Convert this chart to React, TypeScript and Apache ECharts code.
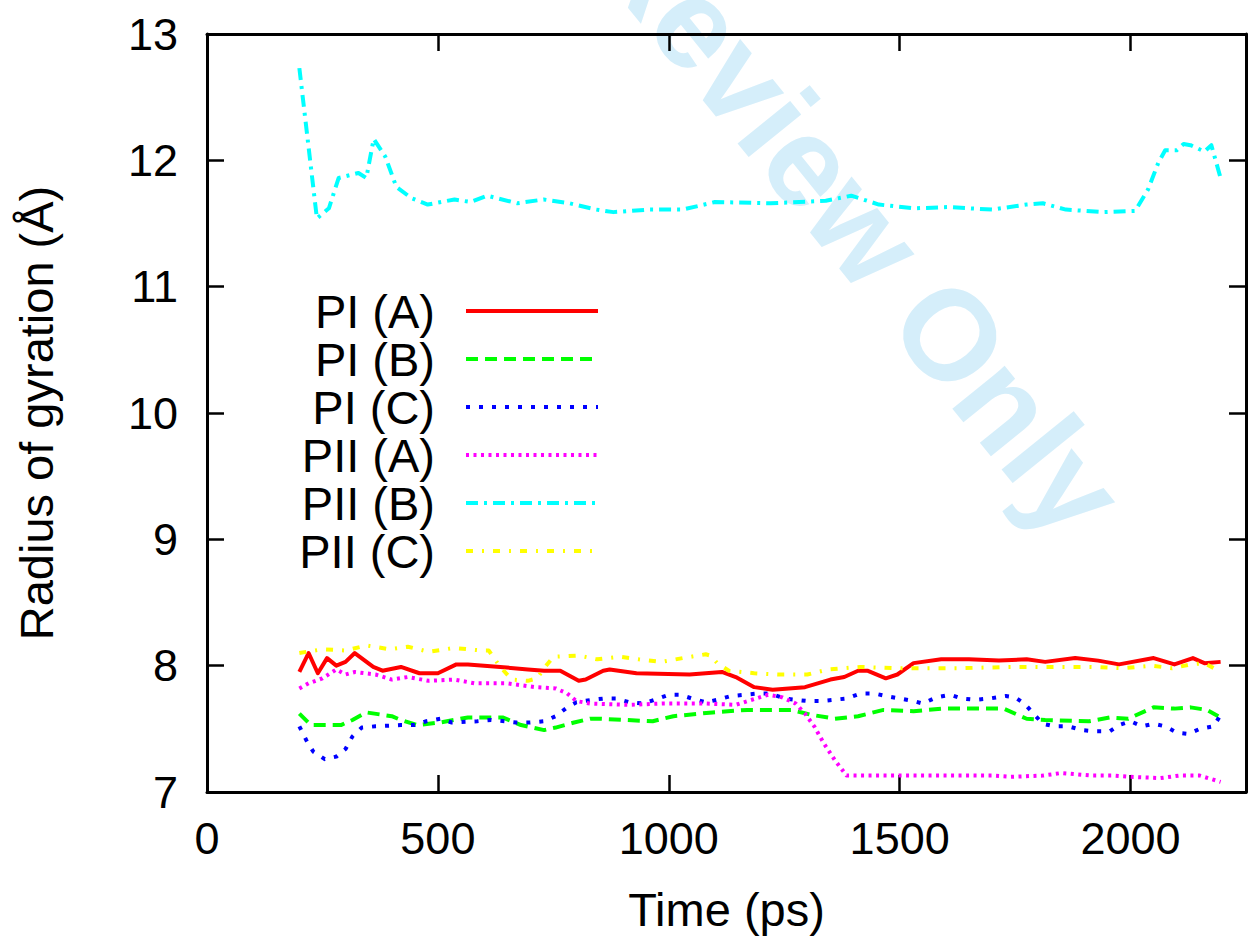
import React, { useEffect, useRef } from "react";
import * as echarts from "echarts";

// ---- data: [time (ps), radius of gyration (Å)] ----
const piA: [number, number][] = [
  [200, 7.95], [220, 8.10], [240, 7.94], [260, 8.06], [280, 8.0], [300, 8.03], [320, 8.10], [360, 7.99],
  [380, 7.96], [420, 7.99], [460, 7.94], [500, 7.94], [540, 8.01], [565, 8.01], [635, 7.99], [695, 7.97],
  [730, 7.96], [765, 7.96], [805, 7.88], [820, 7.89], [858, 7.96], [872, 7.97], [930, 7.94], [1045, 7.93],
  [1115, 7.95], [1145, 7.91], [1185, 7.83], [1225, 7.81], [1295, 7.83], [1350, 7.89], [1380, 7.91],
  [1410, 7.96], [1430, 7.96], [1470, 7.90], [1495, 7.93], [1530, 8.02], [1590, 8.05], [1650, 8.05],
  [1715, 8.04], [1775, 8.05], [1815, 8.03], [1880, 8.06], [1930, 8.04], [1975, 8.01], [2050, 8.06],
  [2095, 8.01], [2135, 8.06], [2160, 8.02], [2195, 8.03],
];
const piB: [number, number][] = [
  [200, 7.62], [225, 7.53], [250, 7.53], [290, 7.53], [315, 7.57], [345, 7.63], [400, 7.60], [420, 7.57],
  [455, 7.53], [505, 7.55], [565, 7.59], [640, 7.59], [680, 7.53], [730, 7.49], [755, 7.51], [795, 7.55],
  [830, 7.58], [850, 7.58], [965, 7.56], [1010, 7.60], [1095, 7.63], [1170, 7.65], [1265, 7.65],
  [1310, 7.61], [1360, 7.58], [1410, 7.60], [1465, 7.65], [1530, 7.64], [1595, 7.66], [1700, 7.66],
  [1725, 7.66], [1775, 7.58], [1815, 7.57], [1910, 7.56], [1955, 7.59], [1995, 7.58], [2050, 7.67],
  [2095, 7.66], [2130, 7.67], [2165, 7.65], [2190, 7.60],
];
const piC: [number, number][] = [
  [200, 7.52], [215, 7.41], [230, 7.32], [255, 7.26], [280, 7.28], [300, 7.34], [315, 7.44], [335, 7.51],
  [365, 7.52], [420, 7.53], [450, 7.53], [475, 7.56], [505, 7.58], [530, 7.55], [585, 7.56], [615, 7.57],
  [645, 7.56], [670, 7.55], [700, 7.55], [730, 7.56], [755, 7.60], [780, 7.67], [800, 7.71], [835, 7.73],
  [860, 7.74], [885, 7.74], [915, 7.71], [945, 7.70], [970, 7.73], [1000, 7.77], [1025, 7.77], [1050, 7.74],
  [1080, 7.71], [1105, 7.73], [1135, 7.76], [1165, 7.77], [1195, 7.78], [1220, 7.78], [1250, 7.74],
  [1300, 7.72], [1330, 7.72], [1385, 7.74], [1415, 7.78], [1445, 7.78], [1470, 7.76], [1500, 7.74],
  [1530, 7.72], [1550, 7.70], [1580, 7.75], [1610, 7.77], [1635, 7.74], [1665, 7.73], [1695, 7.74],
  [1730, 7.76], [1750, 7.75], [1770, 7.70], [1790, 7.62], [1810, 7.54], [1835, 7.52], [1865, 7.52],
  [1895, 7.49], [1925, 7.48], [1955, 7.48], [1975, 7.53], [2000, 7.56], [2025, 7.52], [2050, 7.54],
  [2075, 7.52], [2100, 7.47], [2125, 7.46], [2150, 7.50], [2180, 7.52], [2195, 7.61],
];
const piiA: [number, number][] = [
  [200, 7.82], [220, 7.86], [250, 7.90], [280, 7.97], [300, 7.93], [320, 7.95], [365, 7.93], [400, 7.89],
  [435, 7.91], [480, 7.88], [535, 7.89], [580, 7.86], [650, 7.86], [710, 7.83], [755, 7.82], [780, 7.78],
  [800, 7.72], [830, 7.70], [915, 7.69], [985, 7.70], [1080, 7.70], [1145, 7.69], [1180, 7.73],
  [1215, 7.77], [1245, 7.75], [1275, 7.70], [1295, 7.62], [1315, 7.52], [1335, 7.39], [1360, 7.25],
  [1385, 7.13], [1415, 7.13], [1560, 7.13], [1700, 7.13], [1740, 7.12], [1810, 7.13], [1850, 7.15],
  [1915, 7.13], [1965, 7.13], [2000, 7.12], [2065, 7.11], [2105, 7.13], [2150, 7.13], [2195, 7.08],
];
const piiB: [number, number][] = [
  [200, 12.73], [238, 11.54], [264, 11.62], [285, 11.86], [328, 11.90], [345, 11.86], [361, 12.17],
  [386, 12.03], [410, 11.79], [443, 11.70], [478, 11.65], [536, 11.69], [571, 11.67], [607, 11.72],
  [672, 11.66], [729, 11.69], [785, 11.66], [843, 11.61], [880, 11.59], [955, 11.61], [1030, 11.61],
  [1100, 11.67], [1220, 11.66], [1340, 11.68], [1395, 11.72], [1455, 11.65], [1530, 11.62], [1605, 11.63],
  [1700, 11.61], [1775, 11.65], [1810, 11.66], [1860, 11.61], [1940, 11.59], [2010, 11.60], [2038, 11.77],
  [2060, 11.98], [2075, 12.08], [2100, 12.08], [2115, 12.13], [2130, 12.12], [2160, 12.07], [2175, 12.12],
  [2195, 11.86],
];
const piiC: [number, number][] = [
  [200, 8.10], [250, 8.13], [300, 8.12], [345, 8.16], [395, 8.13], [435, 8.15], [480, 8.11], [535, 8.14],
  [595, 8.12], [610, 8.12], [635, 7.99], [660, 7.89], [695, 7.88], [715, 7.90], [730, 7.98], [750, 8.07],
  [805, 8.08], [845, 8.05], [895, 8.07], [935, 8.05], [985, 8.03], [1030, 8.06], [1080, 8.09], [1090, 8.08],
  [1105, 8.02], [1130, 7.96], [1185, 7.94], [1235, 7.93], [1300, 7.93], [1345, 7.97], [1415, 7.99],
  [1490, 7.98], [1560, 7.98], [1630, 7.98], [1740, 7.99], [1775, 7.99], [1845, 7.99], [1915, 7.99],
  [1985, 7.98], [2045, 8.00], [2090, 7.98], [2130, 8.01], [2160, 8.02], [2180, 7.98], [2190, 7.94],
];

const seriesNames = ["PI (A)", "PI (B)", "PI (C)", "PII (A)", "PII (B)", "PII (C)"];
const seriesData = [piA, piB, piC, piiA, piiB, piiC];
const seriesColors = ["#ff0000", "#00ff00", "#0000ff", "#ff00ff", "#00ffff", "#ffff00"];
const seriesDash: (string | number[])[] = ["solid", [12, 7], [4, 9], [3, 4.5], [12, 6, 3, 6], [7, 9, 2, 9]];

const xTicks = { min: 0, max: 2250, interval: 500 };
const yTicks = { min: 7, max: 13, interval: 1 };

const FONT = '"Liberation Sans", Arial, Helvetica, sans-serif';
const TICK_FS = 45;
const NAME_FS = 47;

export default function App() {
  const ref = useRef<HTMLDivElement>(null);
  useEffect(() => {
    if (!ref.current) return;
    const chart = echarts.init(ref.current, undefined, { renderer: "svg" });
    const axisLine = { show: true, onZero: false, lineStyle: { color: "#000", width: 3 } };
    const axisTick = { show: true, inside: true, length: 17, lineStyle: { color: "#000", width: 2.5 } };
    const lineW = 4;

    const legendX = 435;
    const legendLineX1 = 466;
    const legendLineX2 = 598;
    const legendY0 = 311;
    const legendDy = 48;

    const legendEls: any[] = [];
    seriesNames.forEach((name, i) => {
      const y = legendY0 + i * legendDy;
      legendEls.push({
        type: "text",
        z: 100,
        style: {
          text: name,
          x: legendX,
          y,
          fill: "#000",
          font: `${NAME_FS}px ${FONT}`,
          textAlign: "right",
          align: "right",
          textVerticalAlign: "middle",
          verticalAlign: "middle",
        },
      });
      const dash = seriesDash[i];
      legendEls.push({
        type: "line",
        z: 100,
        shape: { x1: legendLineX1, y1: y, x2: legendLineX2, y2: y },
        style: {
          stroke: seriesColors[i],
          lineWidth: lineW,
          lineDash: Array.isArray(dash) ? dash : null,
          lineCap: "butt",
        },
      });
    });

    const option: any = {
      animation: false,
      backgroundColor: "#fff",
      textStyle: { fontFamily: FONT },
      grid: { left: 207, top: 34, bottom: 149, right: -6, containLabel: false },
      xAxis: [
        {
          type: "value",
          position: "bottom",
          ...xTicks,
          axisLine,
          axisTick,
          splitLine: { show: false },
          axisLabel: {
            margin: 24,
            fontSize: TICK_FS,
            color: "#000",
            fontFamily: FONT,
            formatter: (v: number) => (v > 2200 ? "" : String(v)),
          },
          name: "Time (ps)",
          nameLocation: "middle",
          nameGap: 94,
          nameTextStyle: { fontSize: NAME_FS, color: "#000", fontFamily: FONT },
        },
        {
          type: "value",
          position: "top",
          ...xTicks,
          axisLine,
          axisTick,
          splitLine: { show: false },
          axisLabel: { show: false },
        },
      ],
      yAxis: [
        {
          type: "value",
          position: "left",
          ...yTicks,
          axisLine,
          axisTick,
          splitLine: { show: false },
          axisLabel: { margin: 29, fontSize: TICK_FS, color: "#000", fontFamily: FONT },
          name: "Radius of gyration (Å)",
          nameLocation: "middle",
          nameGap: 147,
          nameRotate: 90,
          nameTextStyle: { fontSize: NAME_FS, color: "#000", fontFamily: FONT },
        },
        {
          type: "value",
          position: "right",
          ...yTicks,
          axisLine,
          axisTick,
          splitLine: { show: false },
          axisLabel: { show: false },
        },
      ],
      graphic: [
        {
          type: "text",
          x: 619,
          y: -74,
          rotation: (-51 * Math.PI) / 180,
          z: -10,
          silent: true,
          style: {
            text: "Review Only",
            x: 0,
            y: 0,
            fill: "#d5eefa",
            font: `bold 128px ${FONT}`,
            textAlign: "left",
            align: "left",
            textVerticalAlign: "middle",
            verticalAlign: "middle",
          },
        },
        ...legendEls,
      ],
      series: seriesNames.map((name, i) => ({
        name,
        type: "line",
        xAxisIndex: 0,
        yAxisIndex: 0,
        data: seriesData[i],
        showSymbol: false,
        symbol: "none",
        smooth: false,
        z: 5,
        lineStyle: {
          color: seriesColors[i],
          width: lineW,
          type: seriesDash[i],
          cap: "butt",
          join: "round",
        },
      })),
    };
    chart.setOption(option);
    return () => chart.dispose();
  }, []);
  return (
    <div
      ref={ref}
      style={{ position: "absolute", left: 0, top: 0, width: 1249, height: 941, background: "#fff" }}
    />
  );
}
